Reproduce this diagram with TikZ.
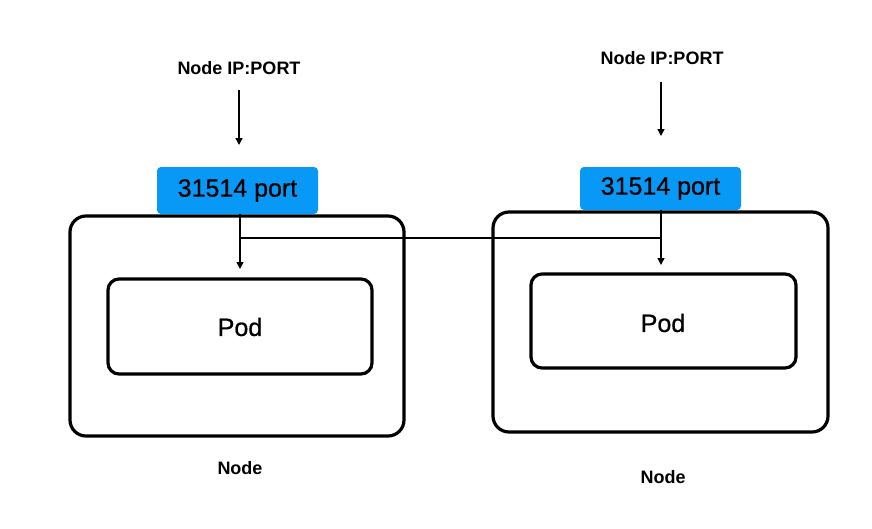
\documentclass[tikz,border=0pt]{standalone}
\usepackage{fontspec}
\setmainfont{Liberation Sans}
\newfontfamily\medfont[FakeBold=0.7]{Liberation Sans}
\usetikzlibrary{arrows.meta}
\definecolor{portblue}{HTML}{0899F7}
\begin{document}
\begin{tikzpicture}[x=1pt,y=-1pt,
  hostbox/.style={draw=black,line width=3.2pt,rounded corners=16pt},
  podbox/.style={draw=black,line width=3.2pt,rounded corners=11pt},
  portbox/.style={fill=portblue,rounded corners=4pt},
  toplabel/.style={font=\fontsize{18}{20}\selectfont\bfseries},
  bigtext/.style={font=\medfont\fontsize{25}{28}\selectfont},
  conn/.style={line width=1.4pt},
  arr/.style={conn,-{Triangle[length=7pt,width=7pt]}}]
\useasboundingbox (0,0) rectangle (872,528);
% left host
\draw[hostbox] (70,216) rectangle (404,436);
\draw[podbox] (108,279) rectangle (372,374);
\node[bigtext] (podL) at (240,327) {Pod};
\fill[portbox] (157,167) rectangle (318,214);
\node[bigtext] (portL) at (237.5,190.5) {31514 port};
\coordinate (portLb) at (240,214);
\coordinate (jL) at (240,238);
\coordinate (tipL) at (240,269);
\node[toplabel] (ipL) at (239,68) {Node IP:PORT};
\coordinate (aLs) at (239,90);
\coordinate (aLe) at (239,145);
\node[toplabel] (nodeL) at (240,468) {Node};
% right host
\draw[hostbox] (493,212) rectangle (828,432);
\draw[podbox] (531,274) rectangle (796,368);
\node[bigtext] (podR) at (663,323) {Pod};
\fill[portbox] (580,167) rectangle (741,210);
\node[bigtext] (portR) at (660.5,188.5) {31514 port};
\coordinate (portRb) at (661,210);
\coordinate (jR) at (661,238);
\coordinate (tipR) at (661,265);
\node[toplabel] (ipR) at (662,58) {Node IP:PORT};
\coordinate (aRs) at (661,82);
\coordinate (aRe) at (661,136);
\node[toplabel] (nodeR) at (663,477) {Node};
% connectors
\draw[arr] (aLs) -- (aLe);
\draw[arr] (aRs) -- (aRe);
\draw[arr] (portLb) -- (tipL);
\draw[arr] (portRb) -- (tipR);
\draw[conn] (jL) -- (jR);
\end{tikzpicture}
\end{document}
